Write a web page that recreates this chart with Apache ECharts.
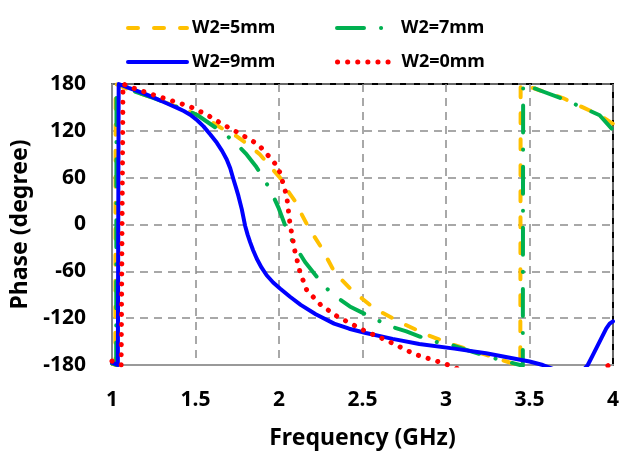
<!DOCTYPE html>
<html>
<head>
<meta charset="utf-8">
<script src="https://cdn.jsdelivr.net/npm/echarts@6/dist/echarts.min.js"></script>
<style>
  html, body { margin: 0; padding: 0; background: #fff; }
  #chart { width: 622px; height: 455px; }
</style>
</head>
<body>
<div id="chart"></div>
<script>
// Phase response (degrees, wrapped to ±180) versus frequency for each W2 width.
const seriesNames = ['W2=5mm', 'W2=7mm', 'W2=9mm', 'W2=0mm'];

const phaseW5 = [
  [1.00, -178], [1.02, -180], [1.022, 180], [1.10, 173], [1.25, 162], [1.40, 150],
  [1.508, 140.6], [1.607, 130], [1.687, 119.3], [1.747, 113], [1.827, 100.3],
  [1.886, 89.7], [1.946, 74.8], [2.006, 60], [2.046, 45], [2.096, 30], [2.136, 13],
  [2.175, -3], [2.255, -30], [2.335, -62], [2.44, -85],
  [2.574, -108], [2.743, -127], [2.883, -141], [3.042, -154], [3.241, -167],
  [3.42, -179.5], [3.445, -181], [3.447, 180], [3.56, 172], [3.70, 162],
  [3.82, 150], [3.92, 140], [4.00, 129]
];

const phaseW7 = [
  [1.00, -178], [1.025, -180], [1.027, 180], [1.10, 173], [1.25, 162], [1.40, 150],
  [1.508, 140.6], [1.667, 117.3], [1.737, 105.3], [1.806, 89.7], [1.86, 75], [1.906, 60],
  [1.956, 41], [1.996, 22], [2.056, -12], [2.106, -31], [2.156, -48], [2.275, -80],
  [2.345, -93], [2.424, -105], [2.584, -122], [2.674, -131], [2.763, -137],
  [2.843, -143.5], [2.93, -150], [3.03, -154], [3.14, -162], [3.30, -172],
  [3.46, -181], [3.462, 180], [3.56, 172], [3.70, 161], [3.816, 150],
  [3.92, 140], [4.00, 121]
];

const phaseW9 = [
  [1.00, -177], [1.035, -180], [1.04, 180], [1.10, 175], [1.19, 168], [1.26, 161.5],
  [1.33, 155], [1.40, 148.4], [1.43, 145.4], [1.468, 140.6], [1.51, 133.5],
  [1.548, 125.7], [1.59, 115], [1.628, 104.6], [1.66, 94], [1.687, 83.3],
  [1.708, 72], [1.727, 57.9], [1.742, 47.5], [1.757, 36.6], [1.777, 19.7],
  [1.797, -1.5], [1.812, -13], [1.827, -22.6], [1.845, -33], [1.867, -43.9],
  [1.895, -55], [1.926, -65], [1.965, -74.3], [2.006, -82], [2.066, -92.6],
  [2.13, -103], [2.22, -115], [2.33, -127], [2.42, -133.5],
  [2.52, -139], [2.68, -146.5], [2.84, -153], [3.05, -159], [3.24, -165], [3.50, -175.5],
  [3.58, -180], [3.70, -190], [3.80, -192], [3.849, -180], [3.88, -167],
  [3.92, -150], [3.96, -133], [3.98, -127], [4.00, -124]
];

const phaseW0 = [
  [1.00, -175], [1.055, -180], [1.066, 180], [1.15, 173], [1.25, 166], [1.41, 155],
  [1.468, 151], [1.568, 140.6], [1.667, 127.8], [1.777, 115], [1.876, 102.4],
  [1.956, 83.3], [1.996, 72.7], [2.02, 56], [2.046, 36.6], [2.066, 0.6],
  [2.096, -35], [2.126, -61], [2.166, -84], [2.25, -103], [2.35, -118], [2.52, -137],
  [2.64, -148], [2.81, -166], [2.98, -177.5], [3.04, -182], [3.30, -205],
  [3.60, -215], [3.85, -200], [3.975, -180], [4.00, -178]
];

const xTicks = { min: 1, max: 4, step: 0.5 };
const yTicks = { min: -180, max: 180, step: 60 };

const font = '"Noto Sans", "DejaVu Sans", sans-serif';

const styles = [
  { color: '#FFC000', width: 4, type: [10, 16], cap: 'round' },
  { color: '#00B050', width: 4, type: [27, 17, 0.1, 17], cap: 'round' },
  { color: '#0000FF', width: 4, type: 'solid', cap: 'round' },
  { color: '#FF0000', width: 5, type: [0.1, 10], cap: 'round' }
];
const dataSets = [phaseW5, phaseW7, phaseW9, phaseW0];

// one legend block per entry so the 2x2 arrangement sits where it should
const legendSpots = [
  { left: 126, top: 19 }, { left: 335, top: 19 },
  { left: 126, top: 53 }, { left: 335, top: 53 }
];

const chart = echarts.init(document.getElementById('chart'), null, { renderer: 'canvas' });

chart.setOption({
  animation: false,
  backgroundColor: '#ffffff',
  grid: {
    left: 112, right: 9, top: 84, bottom: 88,
    show: true, borderColor: '#000000', borderWidth: 2, backgroundColor: 'transparent'
  },
  legend: seriesNames.map((name, i) => ({
    data: [name],
    left: legendSpots[i].left,
    top: legendSpots[i].top,
    padding: 0,
    itemWidth: 59,
    itemHeight: 14,
    selectedMode: false,
    textStyle: { fontFamily: font, fontWeight: 'bold', fontSize: 18, color: '#000' },
    itemStyle: { color: 'rgba(0,0,0,0)', borderWidth: 0 },
    lineStyle: {
      color: styles[i].color, width: styles[i].width,
      type: styles[i].type, cap: styles[i].cap
    }
  })),
  xAxis: {
    type: 'value',
    min: xTicks.min, max: xTicks.max, interval: xTicks.step,
    name: 'Frequency (GHz)',
    nameLocation: 'middle',
    nameGap: 62,
    nameTextStyle: { fontFamily: font, fontWeight: 'bold', fontSize: 23, color: '#000' },
    axisLine: { show: true, onZero: false, lineStyle: { color: '#999999', width: 2 } },
    axisTick: { show: false },
    axisLabel: {
      margin: 25, fontFamily: font, fontWeight: 'bold', fontSize: 21, color: '#000',
      formatter: v => String(v)
    },
    splitLine: { show: true, lineStyle: { color: '#8c8c8c', width: 1.5, type: [8, 6] } }
  },
  yAxis: {
    type: 'value',
    min: yTicks.min, max: yTicks.max, interval: yTicks.step,
    name: 'Phase (degree)',
    nameLocation: 'middle',
    nameGap: 71,
    nameTextStyle: { fontFamily: font, fontWeight: 'bold', fontSize: 23, color: '#000' },
    axisLine: { show: true, onZero: false, lineStyle: { color: '#888888', width: 2 } },
    axisTick: { show: false },
    axisLabel: { margin: 26, fontFamily: font, fontWeight: 'bold', fontSize: 21, color: '#000' },
    splitLine: { show: true, lineStyle: { color: '#8c8c8c', width: 1.5, type: [8, 6] } }
  },
  series: seriesNames.map((name, i) => ({
    name: name,
    type: 'line',
    data: dataSets[i],
    symbol: 'none',
    clip: true,
    lineStyle: {
      color: styles[i].color, width: styles[i].width,
      type: styles[i].type, cap: styles[i].cap, join: 'round'
    },
    itemStyle: { color: styles[i].color }
  }))
});
</script>
</body>
</html>
